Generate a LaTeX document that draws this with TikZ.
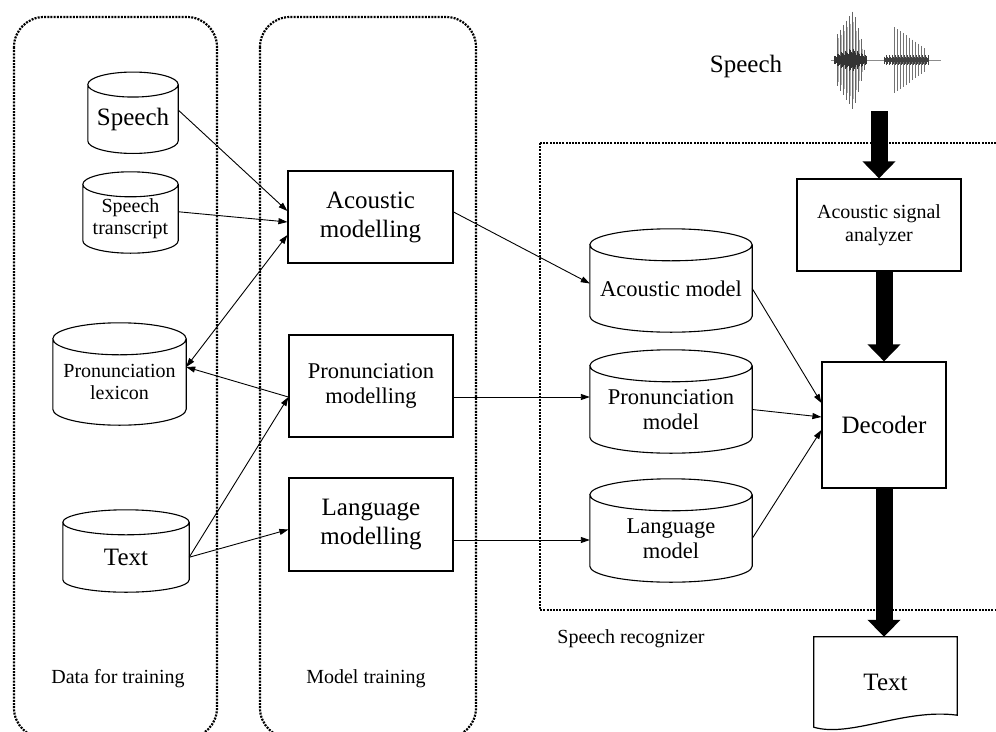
\documentclass[tikz,border=0pt]{standalone}
\usepackage{fontspec}
\setmainfont{Liberation Serif}
\usetikzlibrary{arrows.meta,calc}

\newcommand\bigf{\fontsize{25}{29}\selectfont}
\newcommand\midf{\fontsize{22.5}{25.5}\selectfont}
\newcommand\smallf{\fontsize{20}{22.5}\selectfont}
\newcommand\drum[2]{%
  \draw[line width=1.1pt] let \p1=(#1.west), \p2=(#1.east), \n1={(\x2-\x1)/2} in
    ($(#1.north west)+(0,-#2)$) -- (#1.south west)
    arc[start angle=180, end angle=360, x radius=\n1, y radius=#2pt]
    -- ($(#1.north east)+(0,-#2)$)
    arc[start angle=0, end angle=360, x radius=\n1, y radius=#2pt];
}

\begin{document}
\begin{tikzpicture}[x=1pt,y=-1pt,>={Triangle[length=9pt,width=6pt]}]
    \tikzstyle{every node}=[inner sep=0pt, align=center]
    \tikzstyle{proc}=[draw, line width=1.2pt]
    \tikzstyle{lnk}=[line width=0.9pt, ->]
    \tikzstyle{fat}=[line width=17pt, -{Triangle[width=32pt,length=17pt]}]
    \tikzstyle{zone}=[line width=2.2pt, dash pattern=on 2pt off 1.2pt]
    \tikzset{store/.style 2 args={minimum width=#1, minimum height=#2}}

    \useasboundingbox (0,0) rectangle (996,731);
    \fill[white] (0,0) rectangle (996,731);
    \clip (0,0) rectangle (996,731);

    \draw[zone, rounded corners=30pt] (14,17) rectangle (217,738);
    \draw[zone, rounded corners=30pt] (260,17) rectangle (476,738);
    \draw[zone] (540,143) rectangle (1010,610);

    \node (sp) at (133,119) [store={90}{43.5}, font=\bigf] {Speech};
    \node (tr) at (130.5,218.75) [store={95}{43.5}, font=\smallf] {Speech\\transcript};
    \node (lex) at (119.5,382) [store={133}{54}, font=\smallf] {Pronunciation\\lexicon};
    \node (txt) at (126,557.25) [store={126}{44.5}, font=\bigf] {Text};
    \drum{sp}{12.5}
    \drum{tr}{12.5}
    \drum{lex}{16}
    \drum{txt}{12.5}

    \node (amod) at (370.5,217) [proc, minimum width=165, minimum height=92, font=\bigf] {Acoustic\\modelling};
    \node (pmod) at (371,386) [proc, minimum width=164, minimum height=102, font=\midf] {Pronunciation\\modelling};
    \node (lmod) at (371,524.5) [proc, minimum width=164, minimum height=93, font=\bigf] {Language\\modelling};

    \node (am) at (671,288.5) [store={162}{55}, font=\midf] {Acoustic model};
    \node (pm) at (671,409.5) [store={162}{55}, font=\midf] {Pronunciation\\model};
    \node (lm) at (671,538.5) [store={162}{55}, font=\midf] {Language\\model};
    \drum{am}{16}
    \drum{pm}{16}
    \drum{lm}{16}

    \node (asa) at (879,225) [proc, minimum width=164, minimum height=92, font=\smallf] {Acoustic signal\\analyzer};
    \node (dec) at (884,425) [proc, minimum width=124, minimum height=126, font=\bigf] {Decoder};
    \node (out) at (885.5,682) [minimum width=143, minimum height=90, font=\bigf] {Text};
    \draw[line width=1.2pt] (out.north west) -- (out.south west)
        .. controls (850,738) and (905,708) .. ($(out.south east)+(0,-12)$) -- (out.north east) -- cycle;

    \node (say) at (746,66) [font=\bigf] {Speech};
    \node (wave) at (886,60) [minimum width=110, minimum height=102] {};
    \draw[black!45, line width=0.5pt] (wave.west) -- (wave.east);
    \foreach \x in {837,840,...,864}{
        \pgfmathsetmacro\a{\x<853 ? 26+1.5*(\x-837) : 50-3.6*(\x-853)}
        \draw[black!60, line width=0.7pt] (\x,{60-\a}) -- (\x,{60+\a});
    }
    \foreach \x in {838.5,841.5,...,865.5}{
        \pgfmathsetmacro\a{\x<853 ? 20+1.2*(\x-837) : 40-3*(\x-853)}
        \draw[black!30, line width=0.5pt] (\x,{60-\a}) -- (\x,{60+\a});
    }
    \foreach \x in {894,897,...,926}{
        \pgfmathsetmacro\a{33-0.7*(\x-894)}
        \draw[black!55, line width=0.7pt] (\x,{60-\a}) -- (\x,{60+\a});
    }
    \foreach \x in {834,835,...,866}{
        \pgfmathsetmacro\a{(\x<852 ? 5+0.4*(\x-834) : 12-0.55*(\x-852))*(0.55+0.15*mod(7*\x,4))}
        \draw[black!80, line width=0.8pt] (\x,{60-\a}) -- (\x,{60+\a});
    }
    \foreach \x in {884,885,...,928}{
        \draw[black!75, line width=0.7pt] (\x,{60-2-1.5*mod(5*\x,3)}) -- (\x,{60+2+1.5*mod(5*\x,3)});
    }

    \node (dft) at (118,679) [font=\smallf] {Data for training};
    \node (mt) at (366,679) [font=\smallf] {Model training};
    \node (sr) at (631,639) [font=\smallf] {Speech recognizer};

    \draw[lnk] ([yshift=9pt]sp.east) -- ([yshift=6pt]amod.west);
    \draw[lnk] ([yshift=7pt]tr.east) -- ([yshift=-5pt]amod.west);
    \draw[lnk, <->] ([yshift=15pt]lex.east) -- ([yshift=-18pt]amod.west);
    \coordinate (pin) at ([yshift=-11pt]pmod.west);
    \draw[lnk] (pin) -- ([yshift=15pt]lex.east);
    \draw[lnk] (txt.east) -- (pin);
    \draw[lnk] (txt.east) -- ([yshift=-5pt]lmod.west);
    \draw[lnk] ([yshift=5pt]amod.east) -- ([yshift=5pt]am.west);
    \coordinate (pout) at ([yshift=-11pt]pmod.east);
    \draw[lnk] (pout) -- (pout -| pm.west);
    \coordinate (lout) at ([yshift=-15.5pt]lmod.east);
    \draw[lnk] (lout) -- (lout -| lm.west);
    \draw[lnk] (am.east) -- ([yshift=22pt]dec.west);
    \draw[lnk] (pm.east) -- ([yshift=8pt]dec.west);
    \draw[lnk] (lm.east) -- ([yshift=-5pt]dec.west);

    \draw[fat] (asa.north |- wave.south) -- (asa.north);
    \draw[fat] (dec.north |- asa.south) -- (dec.north);
    \draw[fat] (dec.south) -- (dec.south |- out.north);
\end{tikzpicture}
\end{document}
